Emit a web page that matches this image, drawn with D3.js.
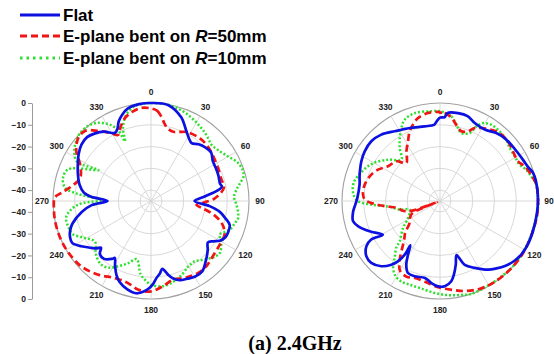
<!DOCTYPE html>
<html>
<head>
<meta charset="utf-8">
<script src="https://cdn.jsdelivr.net/npm/d3@7"></script>
<style>
  body { margin: 0; background: #fff; }
  svg { display: block; font-family: "Liberation Sans", Arial, sans-serif; }
</style>
</head>
<body>
<div id="chart"></div>
<script>
var width = 554;
var height = 354;
var radius = 98;
var labelRadius = 109;

// angular ticks (deg, clockwise from top) and radial ticks (dB)
var angleTicks = [0, 30, 60, 90, 120, 150, 180, 210, 240, 270, 300, 330];
var dbTicks = [-40, -30, -20, -10, 0];
var legendLabels = ['Flat', 'E-plane bent on ', 'E-plane bent on '];
var legendRadii = ['', '=50mm', '=10mm'];
var caption = '(a) 2.4GHz';

// [angle, dB]
var flatLeft = [[0,0],[10,-0.2],[20,-4.2],[26,-8.5],[32,-11.7],[35,-12.5],[40,-11],[45,-10],[51,-9.5],[57,-11.2],[63,-11.6],[69,-11.9],[76,-12.3],[78.5,-11.8],[81,-14],[85,-20],[90,-25],[95,-18],[99,-13],[103,-10],[107,-7.2],[112,-6.8],[116,-7],[120,-8.5],[123,-11],[126,-12.7],[131,-10.5],[138,-7.5],[144,-5],[150,-4.8],[155,-5.6],[160,-6.3],[164,-8],[167,-10.3],[170.5,-13.4],[173,-11.5],[176,-9.5],[179,-6.5],[183,-4],[189,-2.1],[195,-3],[201,-5],[205,-7.5],[209,-11],[212.5,-14],[214,-12.9],[219,-10.8],[224,-11.2],[227,-13.6],[229,-11.8],[232,-10.1],[237,-6.8],[242,-4],[246,-4.3],[250,-5.5],[254,-7.5],[261,-12.8],[266,-17.7],[270,-25],[274,-17.5],[277,-14],[283,-11.3],[290,-9.3],[297,-7.3],[303,-5.4],[309,-3.9],[315,-3.5],[320,-4.6],[326,-6.6],[332,-9.6],[335,-8.5],[338,-5.5],[342,-3],[346,-1.2],[353,-0.2]];
var r50Left = [[0,-2.5],[4,-3.5],[7,-6],[10,-9],[13,-10.8],[18,-11.6],[23,-10.5],[28,-9.2],[38,-8.5],[46,-8.8],[55,-9.9],[64,-10.7],[73,-11.2],[79,-10.8],[83,-12.5],[88,-16],[92,-21],[95,-24],[98,-21],[102,-16],[106,-12],[110,-9.5],[115,-7.8],[122,-7.6],[132,-6.9],[140,-5.7],[147,-5.5],[156,-6.4],[164,-7.5],[172,-5.5],[180,-3.5],[188,-3.8],[196,-5.9],[205,-5.9],[216,-3.3],[227,-1.1],[238,-0.3],[248,0],[258,0],[266,-0.3],[272,-0.8],[275,-3.5],[280,-7.6],[288,-10.8],[297,-8.5],[304,-3.6],[311,-0.8],[317,-0.9],[323,-4.7],[329.5,-8.8],[333.5,-11.1],[338,-8],[342.5,-5.1],[348,-3.2],[354,-2]];
var r10Left = [[0,0],[10,-0.1],[18,-1],[26,-2.5],[33,-4],[38,-5],[43,-6.2],[47,-7.1],[53,-6.3],[60,-4.1],[66,-1.5],[71,-0.6],[75,-1],[79,-3.5],[82,-5.2],[87,-6.8],[93,-5.6],[99,-4.4],[102,-4.3],[105,-5.3],[108,-5.8],[112,-7.7],[116,-9.9],[119,-8.5],[122,-7],[127,-5.4],[131,-6],[135,-7.6],[140,-9.5],[144,-10.8],[150,-10.5],[157,-8.4],[166,-6.2],[173,-5.5],[180,-6.6],[184,-8.5],[188,-11],[194,-17.5],[200,-14.6],[206,-11.8],[212,-8.9],[218,-7.9],[226,-9.8],[234,-13.2],[241,-10.1],[247,-6],[253,-5.2],[259,-5.3],[264,-8.2],[268,-13],[271,-23.5],[274,-16],[276,-9.8],[279,-4.9],[285,-3.2],[291,-4.3],[300.5,-17],[298,-6.5],[303,-3],[308,-1.2],[313,0],[320,0],[326,-1.7],[331.5,-5.1],[335,-8.9],[336.5,-15.1],[339,-9.1],[344,-3.8],[350,-0.9],[355,-0.2]];

// [angle, dB]
var flatRight = [[0,-6.7],[3,-6.5],[5,-4.4],[11.6,-3.8],[18,-4],[24,-5.8],[32,-6.3],[39.6,-4.5],[46,-3.6],[52,-3.3],[58,-3],[64,-2.4],[69,-1.6],[73,-0.4],[78,0],[90,0],[104,-0.2],[116,0],[123,-0.3],[129,-1.2],[135,-2.8],[140,-4.6],[145,-6.5],[152.6,-10.4],[158.8,-13.6],[163,-19],[166,-15],[169,-11],[172,-7.8],[176.8,-5.8],[181.3,-5.8],[186,-7.1],[191,-9],[198.6,-8.5],[204,-8.8],[207.9,-11.9],[210.8,-16.3],[213.8,-20.5],[213.3,-15.5],[214.9,-11.2],[217.4,-8.2],[222,-4.7],[228,-2.5],[233,-2.7],[238.4,-5.3],[240.8,-8.8],[239.5,-14.5],[246.7,-9.8],[253,-5.6],[257,-4],[263,-4.8],[268,-6.2],[272,-7],[281.5,-7.3],[288,-6.2],[297,-4.5],[303.4,-3.6],[311,-3.2],[318.5,-4.3],[327,-6.8],[331.5,-7.8],[337.5,-8.7],[348.4,-10],[355.5,-9.9],[357.5,-8.5]];
var r50Right = [[0,-4.4],[3,-4.5],[8,-6.5],[12,-9.2],[17,-11.5],[22,-10.5],[25.4,-7.9],[29.5,-6.5],[35.7,-4.7],[41.3,-3.5],[48.7,-3.5],[55.8,-4.5],[63,-4.8],[67.7,-3],[74,-1.4],[80,-0.2],[88,0],[100,0],[120,0],[135,0],[147,-0.2],[156,-0.8],[164,-2],[171.5,-3.7],[180,-5.2],[185,-6.2],[191,-7.4],[198,-7.8],[204,-7],[210,-8.2],[215,-13],[220,-18.5],[224,-21.5],[228,-23.5],[233,-27.3],[240,-29],[246,-31],[249,-43.5],[251,-31],[256,-27],[260.5,-25.4],[265,-19],[268,-14],[271,-10.5],[275,-9.5],[282,-9.6],[289.4,-10.8],[296.8,-13.1],[303.7,-16.3],[312.3,-17.9],[318.4,-21.7],[325.9,-17.5],[331.8,-13.9],[336.5,-10.1],[340.5,-7.8],[345.2,-5.6],[352.2,-4.2],[358.7,-4.1]];
var r10Right = [[0,-3.8],[7.6,-5.8],[12,-9],[17.4,-12.3],[23.6,-10.9],[26,-6.9],[29,-4.1],[34,-2.8],[40.6,-2.9],[47,-3.6],[52.7,-4.8],[59,-5],[65.5,-4.8],[70,-2.9],[75,-1.6],[79.4,-0.3],[85,0],[100,0],[130,0],[160,0],[168,-0.9],[176,-1.7],[184,-2.8],[193,-4],[200,-4.1],[206,-4],[211.6,-5.3],[216.4,-8.7],[218.5,-11.6],[223,-15.5],[225,-18.8],[234,-24],[242,-28.4],[254,-30.5],[258,-26],[264,-21],[267,-13.4],[270,-7.3],[275,-5],[282,-4.5],[290,-6.5],[299,-9.5],[308.5,-14.5],[317,-19],[322.8,-14.4],[327.4,-10.7],[332,-7.1],[336.5,-4.3],[344,-3],[354.5,-3.6]];

var seriesStyle = [
  { color: '#0c10e0', width: 2.7, dash: null },
  { color: '#f01414', width: 2.7, dash: '7,4' },
  { color: '#2ee02e', width: 2.5, dash: '2,2' }
];

var svg = d3.select('#chart').append('svg')
      .attr('width', width)
      .attr('height', height)
      .style('background', '#fff');

// dB -> pixel radius, centre of the plot is -45 dB
var rScale = d3.scaleLinear()
      .domain([-45, 0])
      .range([0, radius])
      .clamp(true);

var toRad = d => d * Math.PI / 180;

function drawPolar (cx, cy, data, withAxis) {
      var g = svg.append('g').attr('transform', 'translate(' + cx + ',' + cy + ')');

      g.selectAll('circle.ring')
            .data(dbTicks)
            .enter()
            .append('circle')
            .attr('class', 'ring')
            .attr('r', d => rScale(d))
            .attr('fill', 'none')
            .attr('stroke', d => d === 0 ? '#a2a2a2' : '#d4d4d4')
            .attr('stroke-width', d => d === 0 ? 1.1 : 0.9);

      g.selectAll('line.spoke')
            .data(angleTicks)
            .enter()
            .append('line')
            .attr('class', 'spoke')
            .attr('x1', 0).attr('y1', 0)
            .attr('x2', d => radius * Math.sin(toRad(d)))
            .attr('y2', d => -radius * Math.cos(toRad(d)))
            .attr('stroke', '#d4d4d4')
            .attr('stroke-width', 0.9);

      g.selectAll('text.ang')
            .data(angleTicks)
            .enter()
            .append('text')
            .attr('class', 'ang')
            .attr('x', d => labelRadius * Math.sin(toRad(d)))
            .attr('y', d => -labelRadius * Math.cos(toRad(d)))
            .attr('dy', '0.35em')
            .style('text-anchor', 'middle')
            .style('font-size', '8.5px')
            .style('font-weight', 'bold')
            .style('fill', '#222')
            .text(d => d);

      // patterns: green first, blue on top
      var line = d3.lineRadial()
            .angle(d => toRad(d[0]))
            .radius(d => rScale(d[1]))
            .curve(d3.curveCatmullRomClosed.alpha(0.5));

      [2, 1, 0].forEach(function (i) {
            var s = seriesStyle[i];
            g.append('path')
                  .attr('d', line(data[i]))
                  .attr('fill', 'none')
                  .attr('stroke', s.color)
                  .attr('stroke-width', s.width)
                  .attr('stroke-dasharray', s.dash)
                  .attr('stroke-linejoin', 'round');
      });

      if (withAxis) {
            // mirrored dB axis on the left: 0 at top, -40 near centre, 0 at bottom
            var topScale = d3.scaleLinear().domain([-45, 0]).range([cy, cy - radius]);
            var botScale = d3.scaleLinear().domain([-45, 0]).range([cy, cy + radius]);
            [topScale, botScale].forEach(function (sc) {
                  var ax = svg.append('g')
                        .attr('transform', 'translate(32,0)')
                        .call(d3.axisLeft(sc).tickValues(dbTicks).tickSizeInner(4).tickSizeOuter(0).tickPadding(2));
                  ax.select('.domain').attr('stroke', '#9a9a9a');
                  ax.selectAll('.tick line').attr('stroke', '#9a9a9a');
                  ax.selectAll('.tick text')
                        .style('font-size', '8.5px')
                        .style('font-weight', 'bold')
                        .style('font-family', '"Liberation Sans", Arial, sans-serif')
                        .style('fill', '#222');
            });
      }
}

drawPolar(151, 201, [flatLeft, r50Left, r10Left], true);
drawPolar(440, 201, [flatRight, r50Right, r10Right], false);

// legend
var legend = svg.append('g');
var legendY = [15, 36, 58];
legendLabels.forEach(function (label, i) {
      var s = seriesStyle[i];
      legend.append('line')
            .attr('x1', 20).attr('x2', 60)
            .attr('y1', legendY[i]).attr('y2', legendY[i])
            .attr('stroke', s.color)
            .attr('stroke-width', 3)
            .attr('stroke-dasharray', i === 2 ? '2.5,4' : s.dash);
      var t = legend.append('text')
            .attr('x', 63)
            .attr('y', legendY[i] + 6)
            .style('font-size', '17px')
            .style('font-weight', 'bold')
            .style('fill', '#000')
            .text(label);
      if (legendRadii[i]) {
            t.append('tspan').style('font-style', 'italic').text('R');
            t.append('tspan').text(legendRadii[i]);
      }
});

svg.append('text')
      .attr('x', 295)
      .attr('y', 350)
      .style('text-anchor', 'middle')
      .style('font-family', '"Liberation Serif", "Times New Roman", serif')
      .style('font-size', '20px')
      .style('font-weight', 'bold')
      .text(caption);
</script>
</body>
</html>
